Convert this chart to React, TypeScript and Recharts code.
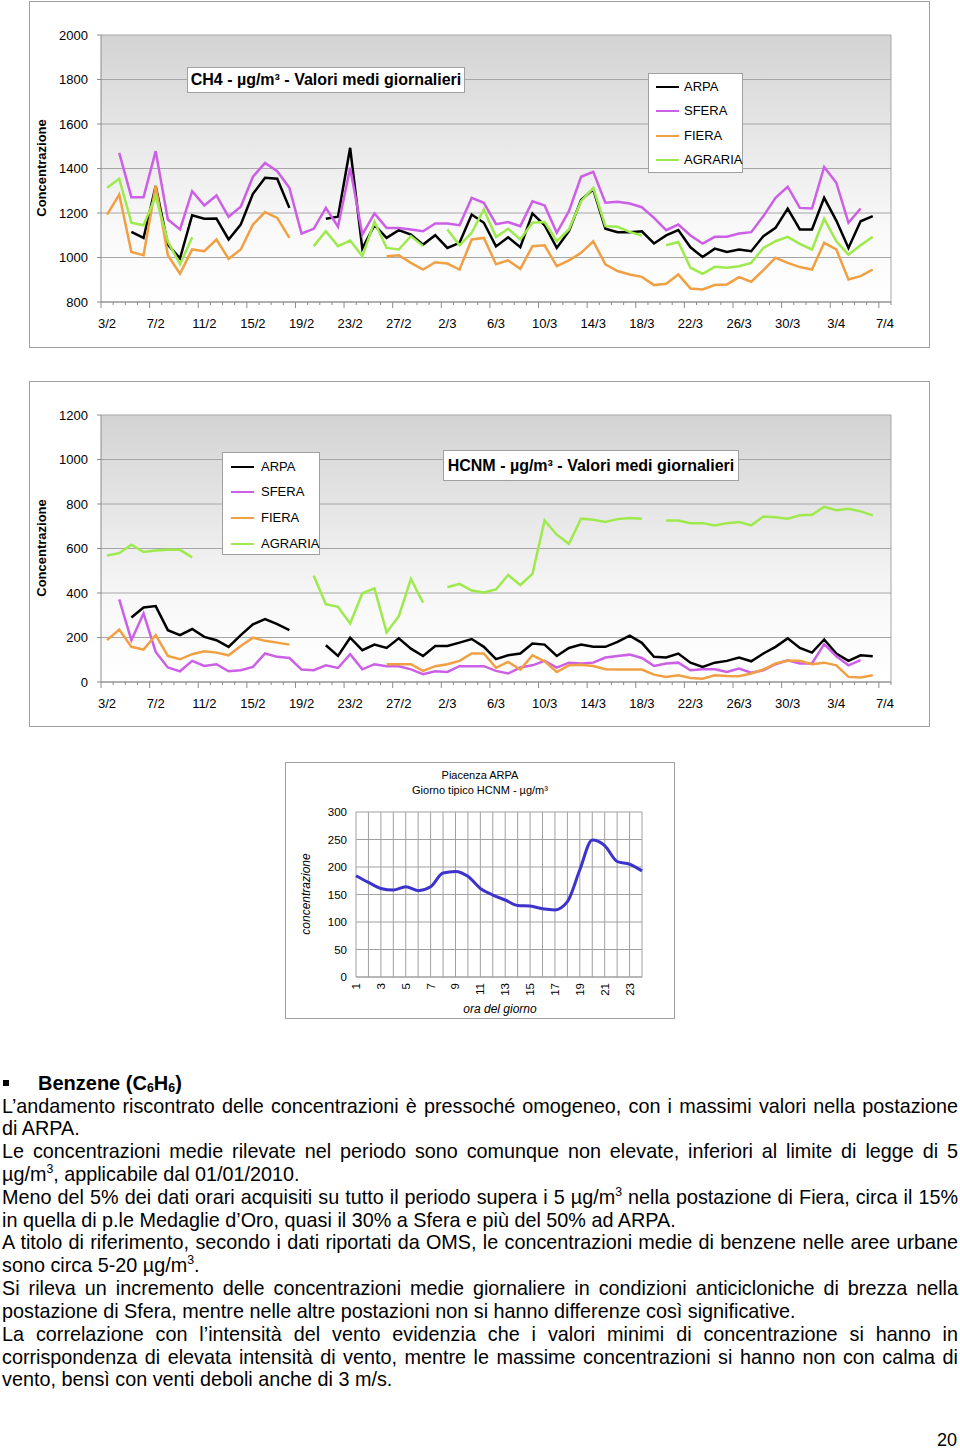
import { LineChart, Line, XAxis, YAxis, CartesianGrid, ReferenceLine } from 'recharts';

// days 3/2 .. 7/4 (65 days), labels every 4th day
const TICK_LABELS = ['3/2', '7/2', '11/2', '15/2', '19/2', '23/2', '27/2', '2/3', '6/3', '10/3', '14/3', '18/3', '22/3', '26/3', '30/3', '3/4', '7/4'];
const DAYS = Array.from({ length: 65 }, (_, i) => i);

const CH4_ARPA = [null, null, 1115, 1088, 1321, 1058, 996, 1190, 1174, 1175,
  1081, 1148, 1286, 1358, 1354, 1223, null, null, 1174, 1183,
  1493, 1040, 1145, 1088, 1123, 1103, 1058, 1100, 1043, 1066,
  1193, 1156, 1050, 1091, 1046, 1198, 1145, 1043, 1118, 1258,
  1306, 1129, 1114, 1114, 1118, 1063, 1099, 1123, 1046, 1002,
  1040, 1025, 1036, 1028, 1096, 1133, 1220, 1126, 1126, 1268,
  1166, 1043, 1163, 1186, null];
const CH4_SFERA = [null, 1470, 1271, 1271, 1478, 1171, 1126, 1298, 1234, 1279,
  1183, 1228, 1363, 1425, 1388, 1313, 1108, 1129, 1223, 1138,
  1403, 1103, 1198, 1133, 1133, 1126, 1118, 1153, 1153, 1145,
  1268, 1246, 1150, 1159, 1141, 1253, 1234, 1111, 1208, 1363,
  1385, 1246, 1250, 1243, 1226, 1178, 1123, 1148, 1099, 1063,
  1093, 1093, 1108, 1114, 1186, 1268, 1318, 1223, 1220, 1407,
  1336, 1156, 1220, null, null];
const CH4_FIERA = [1193, 1283, 1025, 1010, 1321, 1010, 927, 1036, 1028, 1081,
  994, 1036, 1148, 1204, 1178, 1088, null, null, null, null,
  null, null, null, 1006, 1010, 976, 946, 979, 973, 946,
  1081, 1088, 970, 987, 949, 1051, 1055, 961, 987, 1021,
  1073, 969, 939, 924, 913, 876, 882, 924, 861, 856,
  876, 879, 912, 891, 943, 999, 976, 957, 946, 1066,
  1036, 901, 916, 946, null];
const CH4_AGRARIA = [1313, 1354, 1156, 1145, 1276, 1073, 969, 1091, null, null,
  null, null, null, null, null, null, null, 1051, 1118, 1051,
  1076, 1006, 1160, 1043, 1036, 1096, 1051, null, 1126, 1055,
  1111, 1216, 1092, 1129, 1081, 1156, 1159, 1073, 1126, 1253,
  1313, 1141, 1138, 1115, 1099, null, 1055, 1070, 954, 927,
  958, 954, 961, 976, 1043, 1073, 1093, 1061, 1036, 1174,
  1073, 1013, 1055, 1093, null];

const HCNM_ARPA = [null, null, 290, 335, 341, 233, 211, 238, 203, 188,
  158, 211, 259, 283, 260, 233, null, null, 165, 117,
  199, 143, 168, 153, 196, 150, 117, 162, 162, 177,
  193, 158, 103, 120, 128, 173, 168, 117, 153, 168,
  158, 158, 180, 208, 176, 113, 110, 128, 87, 68,
  87, 95, 110, 93, 128, 158, 196, 153, 132, 191,
  128, 95, 120, 116, null];
const HCNM_SFERA = [null, 371, 188, 308, 135, 65, 48, 95, 72, 80,
  48, 53, 68, 128, 113, 108, 56, 53, 75, 63,
  125, 57, 80, 71, 71, 57, 35, 48, 45, 71,
  71, 71, 50, 38, 65, 75, 95, 65, 87, 83,
  87, 110, 117, 123, 108, 72, 83, 87, 53, 57,
  57, 45, 60, 42, 53, 80, 98, 83, 83, 170,
  116, 75, 98, null, null];
const HCNM_FIERA = [188, 236, 158, 146, 211, 117, 102, 125, 138, 132,
  120, 162, 199, 185, 177, 168, null, null, null, null,
  null, null, null, 80, 80, 80, 50, 71, 80, 95,
  128, 128, 64, 90, 56, 120, 93, 45, 75, 78,
  72, 57, 56, 56, 56, 33, 23, 30, 18, 15,
  30, 27, 26, 38, 56, 83, 95, 95, 80, 87,
  75, 23, 20, 30, null];
const HCNM_AGRARIA = [569, 579, 617, 584, 591, 594, 594, 560, null, null,
  null, null, null, null, null, null, null, 478, 350, 338,
  263, 399, 421, 223, 296, 463, 356, null, 426, 441,
  411, 402, 416, 481, 436, 486, 726, 662, 621, 734,
  729, 719, 732, 737, 734, null, 726, 726, 714, 714,
  704, 714, 719, 704, 744, 740, 734, 749, 752, 787,
  772, 779, 767, 749, null];

// giorno tipico HCNM, Piacenza ARPA
const HOURS = [1, 2, 3, 4, 5, 6, 7, 8, 9, 10, 11, 12, 13, 14, 15, 16, 17, 18, 19, 20, 21, 22, 23, 24];
const TIPICO = [184, 172, 161, 158, 164, 157, 164, 189, 192, 183, 161, 149, 140, 130, 129, 124, 122, 137, 195, 249, 239, 210, 205, 193];

const CH4_TICKS = [800, 1000, 1200, 1400, 1600, 1800, 2000];
const HCNM_TICKS = [0, 200, 400, 600, 800, 1000, 1200];
const TIPICO_TICKS = [0, 50, 100, 150, 200, 250, 300];

const FONT = '"Liberation Sans", Arial, Helvetica, sans-serif';
const SERIES = [
  { key: 'arpa', name: 'ARPA', color: '#000000' },
  { key: 'sfera', name: 'SFERA', color: '#cc5fe6' },
  { key: 'fiera', name: 'FIERA', color: '#f0a043' },
  { key: 'agraria', name: 'AGRARIA', color: '#9eea4c' },
];

const ch4Data = DAYS.map(i => ({ day: i, arpa: CH4_ARPA[i], sfera: CH4_SFERA[i], fiera: CH4_FIERA[i], agraria: CH4_AGRARIA[i] }));
const hcnmData = DAYS.map(i => ({ day: i, arpa: HCNM_ARPA[i], sfera: HCNM_SFERA[i], fiera: HCNM_FIERA[i], agraria: HCNM_AGRARIA[i] }));
const tipicoData = HOURS.map((h, i) => ({ ora: h, v: TIPICO[i] }));

// tick marks sit between days (excel category axis), labels on the days
const HALF_TICKS = Array.from({ length: 131 }, (_, k) => -0.5 + k * 0.5);

const dayTick = (props: any) => {
  const { x, y, payload } = props;
  const v = payload.value as number;
  if (Number.isInteger(v)) {
    if (v % 4 !== 0) return <g />;
    return (
      <text x={x} y={y + 21} textAnchor="middle" dominantBaseline="central" fontSize={13} fontFamily={FONT} fill="#000">
        {TICK_LABELS[v / 4]}
      </text>
    );
  }
  const major = (v + 0.5) % 4 === 0;
  return <line x1={x} x2={x} y1={y} y2={y + (major ? 6 : 3)} stroke="#8c8c8c" />;
};

const hourTick = (props: any) => {
  const { x, y, payload } = props;
  const v = payload.value as number;
  if (v % 2 === 0) return <g />;
  return (
    <text x={x} y={y + 6} transform={`rotate(-90 ${x} ${y + 6})`} textAnchor="end" dominantBaseline="central" fontSize={11.5} fontFamily={FONT} fill="#000">
      {v}
    </text>
  );
};

const DailyChart = ({ data, domain, ticks, id }: { data: any[]; domain: number[]; ticks: number[]; id: string }) => (
  <LineChart width={900} height={346} data={data} margin={{ top: 34, right: 38, bottom: 15, left: 0 }}>
    <defs>
      <linearGradient id={id} x1="0" y1="0" x2="0" y2="1">
        <stop offset="0%" stopColor="#d3d3d3" />
        <stop offset="70%" stopColor="#f8f8f8" />
        <stop offset="100%" stopColor="#ffffff" />
      </linearGradient>
    </defs>
    <CartesianGrid vertical={false} stroke="#a6a6a6" fill={`url(#${id})`} fillOpacity={1} />
    <XAxis dataKey="day" type="number" domain={[-0.5, 64.5]} ticks={HALF_TICKS} interval={0}
      tickLine={false} tickSize={0} tickMargin={0} height={30} stroke="#8c8c8c" tick={dayTick} allowDataOverflow />
    <YAxis domain={domain} ticks={ticks} interval={0} width={72} stroke="#8c8c8c" tickSize={4} tickMargin={9}
      tick={{ fill: '#000', fontSize: 13, fontFamily: FONT }} allowDataOverflow />
    <ReferenceLine x={64.5} stroke="#a6a6a6" />
    {SERIES.map(s => (
      <Line key={s.key} dataKey={s.key} name={s.name} type="linear" stroke={s.color} strokeWidth={2.5} dot={false} isAnimationActive={false} />
    ))}
  </LineChart>
);

const Legend = ({ left, top, width, height, rows, sx, tx }: any) => (
  <div style={{ position: 'absolute', left, top, width, height, background: '#fff', border: '1px solid #a0a0a0', boxSizing: 'border-box' }}>
    {SERIES.map((s, i) => (
      <div key={s.key}>
        <div style={{ position: 'absolute', left: sx, top: rows[i] - 1.5, width: 23, height: 2.5, background: s.color }} />
        <div style={{ position: 'absolute', left: tx, top: rows[i] - 8, fontSize: 13, lineHeight: '16px', fontFamily: FONT }}>{s.name}</div>
      </div>
    ))}
  </div>
);

const Box = ({ left, top, width, height }: any) => (
  <div style={{ position: 'absolute', left, top, width, height, border: '1px solid #a0a0a0', boxSizing: 'border-box', pointerEvents: 'none' }} />
);

const Rotated = ({ cx, cy, children, style }: any) => (
  <div style={{ position: 'absolute', left: cx, top: cy, transform: 'translate(-50%, -50%) rotate(-90deg)', whiteSpace: 'nowrap', fontFamily: FONT, ...style }}>
    {children}
  </div>
);

const sup = (t: string) => <sup style={{ fontSize: '0.62em', lineHeight: 0, verticalAlign: 'super' }}>{t}</sup>;
const sub = (t: string) => <span style={{ fontSize: '0.62em', lineHeight: 0, verticalAlign: '-2px' }}>{t}</span>;

const LINES: [any, boolean][] = [
  ['L’andamento riscontrato delle concentrazioni è pressoché omogeneo, con i massimi valori nella postazione', true],
  ['di ARPA.', false],
  ['Le concentrazioni medie rilevate nel periodo sono comunque non elevate, inferiori al limite di legge di 5', true],
  [<>µg/m{sup('3')}, applicabile dal 01/01/2010.</>, false],
  [<>Meno del 5% dei dati orari acquisiti su tutto il periodo supera i 5 µg/m{sup('3')} nella postazione di Fiera, circa il 15%</>, true],
  ['in quella di p.le Medaglie d’Oro, quasi il 30% a Sfera e più del 50% ad ARPA.', false],
  ['A titolo di riferimento, secondo i dati riportati da OMS, le concentrazioni medie di benzene nelle aree urbane', true],
  [<>sono circa 5-20 µg/m{sup('3')}.</>, false],
  ['Si rileva un incremento delle concentrazioni medie giornaliere in condizioni anticicloniche di brezza nella', true],
  ['postazione di Sfera, mentre nelle altre postazioni non si hanno differenze così significative.', false],
  ['La correlazione con l’intensità del vento evidenzia che i valori minimi di concentrazione si hanno in', true],
  ['corrispondenza di elevata intensità di vento, mentre le massime concentrazioni si hanno non con calma di', true],
  ['vento, bensì con venti deboli anche di 3 m/s.', false],
];

export default function App() {
  return (
    <div style={{ position: 'absolute', left: 0, top: 0, width: 960, height: 1451, background: '#fff', fontFamily: FONT, color: '#000', overflow: 'hidden' }}>
      {/* CH4 */}
      <div style={{ position: 'absolute', left: 29, top: 1 }}>
        <DailyChart data={ch4Data} domain={[800, 2000]} ticks={CH4_TICKS} id="bgCh4" />
      </div>
      <Box left={29} top={1} width={901} height={347} />
      <Rotated cx={41} cy={168} style={{ fontSize: 13, fontWeight: 'bold' }}>Concentrazione</Rotated>
      <div style={{ position: 'absolute', left: 187, top: 67, width: 278, height: 26, background: '#fff', border: '1px solid #a0a0a0', boxSizing: 'border-box', fontSize: 16, fontWeight: 'bold', textAlign: 'center', lineHeight: '24px' }}>
        CH4 - µg/m³ - Valori medi giornalieri
      </div>
      <Legend left={648} top={73} width={95} height={100} rows={[13, 37, 62, 86]} sx={7} tx={35} />

      {/* HCNM */}
      <div style={{ position: 'absolute', left: 29, top: 381 }}>
        <DailyChart data={hcnmData} domain={[0, 1200]} ticks={HCNM_TICKS} id="bgHcnm" />
      </div>
      <Box left={29} top={381} width={901} height={346} />
      <Rotated cx={41} cy={548} style={{ fontSize: 13, fontWeight: 'bold' }}>Concentrazione</Rotated>
      <div style={{ position: 'absolute', left: 443, top: 450, width: 296, height: 31, background: '#fff', border: '1px solid #a0a0a0', boxSizing: 'border-box', fontSize: 16, fontWeight: 'bold', textAlign: 'center', lineHeight: '29px' }}>
        HCNM - µg/m³ - Valori medi giornalieri
      </div>
      <Legend left={222} top={452} width={98} height={103} rows={[14, 39, 65, 91]} sx={8} tx={38} />

      {/* giorno tipico */}
      <div style={{ position: 'absolute', left: 285, top: 762 }}>
        <LineChart width={389} height={256} data={tipicoData} margin={{ top: 50, right: 32, bottom: 0, left: 0 }}>
          <CartesianGrid stroke="#a0a0a0" />
          <XAxis dataKey="ora" type="number" domain={[1, 24]} ticks={HOURS} interval={0} tickLine={false} tickSize={0} tickMargin={0}
            height={41} stroke="#a0a0a0" tick={hourTick} />
          <YAxis domain={[0, 300]} ticks={TIPICO_TICKS} interval={0} width={71} axisLine={false} tickLine={false} tickSize={0} tickMargin={9}
            tick={{ fill: '#000', fontSize: 11.5, fontFamily: FONT }} />
          <Line dataKey="v" type="monotone" stroke="#3b33cc" strokeWidth={3} dot={false} isAnimationActive={false} />
        </LineChart>
      </div>
      <Box left={285} top={762} width={390} height={257} />
      <div style={{ position: 'absolute', left: 285, top: 768, width: 390, textAlign: 'center', fontSize: 11, lineHeight: '14.5px' }}>
        Piacenza ARPA<br />Giorno tipico HCNM - µg/m³
      </div>
      <Rotated cx={306} cy={894} style={{ fontSize: 12, fontStyle: 'italic' }}>concentrazione</Rotated>
      <div style={{ position: 'absolute', left: 285, top: 1001, width: 430, textAlign: 'center', fontSize: 12, fontStyle: 'italic', lineHeight: '16px' }}>ora del giorno</div>

      {/* testo */}
      <div style={{ position: 'absolute', left: 3, top: 1080, width: 6, height: 6, background: '#000' }} />
      <div style={{ position: 'absolute', left: 38, top: 1072, fontSize: 20, fontWeight: 'bold', lineHeight: '22px', whiteSpace: 'nowrap' }}>
        Benzene (C{sub('6')}H{sub('6')})
      </div>
      {LINES.map(([content, just], k) => (
        <div key={k} style={{
          position: 'absolute', left: 2, top: 1094.5 + k * 22.83, width: 956, height: 23, lineHeight: '23px', fontSize: 19.8,
          whiteSpace: 'nowrap', textAlign: just ? 'justify' : 'left', textAlignLast: just ? 'justify' : 'left',
        }}>
          {content}
        </div>
      ))}
      <div style={{ position: 'absolute', right: 3, top: 1430, fontSize: 18, lineHeight: '20px' }}>20</div>
    </div>
  );
}
